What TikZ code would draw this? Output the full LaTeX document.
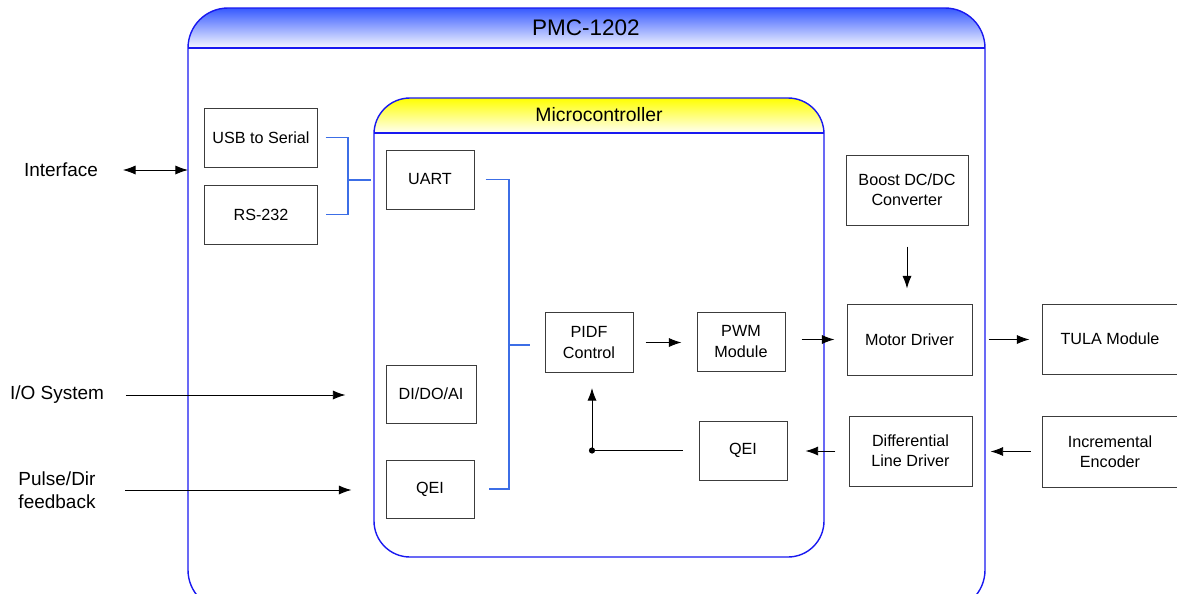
\documentclass[tikz,border=0pt]{standalone}
\usepackage{fontspec}
\setmainfont{Liberation Sans}
\usetikzlibrary{arrows.meta,calc}
\definecolor{frameblue}{RGB}{25,25,240}
\definecolor{busblue}{RGB}{60,110,230}
\definecolor{titleblue}{RGB}{55,90,255}
\definecolor{edgegray}{RGB}{60,60,60}
\newcommand{\boxfont}{\fontsize{11.5}{14.5}\selectfont}
\newcommand{\sidefont}{\fontsize{13.5}{16}\selectfont}
\newcommand{\headfont}{\fontsize{13.8}{16}\selectfont}
\newcommand{\titlefont}{\fontsize{16}{18}\selectfont}

\begin{document}
\begin{tikzpicture}[x=0.025cm, y=-0.025cm, >={Latex[length=9pt,width=6.5pt]},
  blk/.style={draw=edgegray, line width=0.7pt, align=center, minimum width=2.2cm, minimum height=1.475cm, font=\boxfont},
  wideblk/.style={blk, minimum width=3.1cm, minimum height=1.75cm},
  lbl/.style={align=center, font=\sidefont},
  sig/.style={line width=0.65pt},
  bus/.style={draw=busblue, line width=0.8pt},
  frame/.style={draw=frameblue, line width=1pt}]
\clip (0,0) rectangle (1177,593);

% PMC-1202 board
\begin{scope}
\clip[rounded corners=1cm] (188,8) rectangle (985,610);
\fill[top color=titleblue, bottom color=titleblue!4] (188,8) rectangle (985,48);
\end{scope}
\draw[frame, rounded corners=1cm] (188,8) rectangle (985,610);
\draw[frame] (188,48) -- (985,48);
\node[font=\titlefont] (pmc) at (586,28) {PMC-1202};

% Microcontroller
\begin{scope}
\clip[rounded corners=0.9cm] (374,98) rectangle (824,557);
\fill[top color=yellow, bottom color=yellow!4] (374,98) rectangle (824,133);
\end{scope}
\draw[frame, rounded corners=0.9cm] (374,98) rectangle (824,557);
\draw[frame] (374,133) -- (824,133);
\node[font=\headfont] (mcu) at (599,115) {Microcontroller};

% outside labels
\node[lbl] (iface) at (61,170) {Interface};
\node[lbl] (io) at (57,395) {I/O System};
\node[lbl] (pulse) at (57,490) {Pulse/Dir\\feedback};

% serial side
\node[blk, minimum width=2.8cm] (usb) at (261,137.5) {USB to Serial};
\node[blk, minimum width=2.8cm] (rs) at (261,214.5) {RS-232};

% inside the microcontroller
\node[blk] (uart) at (430,179.5) {UART};
\node[blk, minimum width=2.25cm, minimum height=1.45cm] (dio) at (431,394) {DI/DO/AI};
\node[blk, minimum height=1.45cm] (qeiin) at (430,489) {QEI};
\node[blk, minimum height=1.5cm] (pidf) at (589,342.5) {PIDF\\Control};
\node[blk] (pwm) at (741,341.5) {PWM\\Module};
\node[blk] (qeifb) at (743,450.5) {QEI};

% power stage and motor
\node[wideblk, minimum width=3.05cm] (boost) at (907,190) {Boost DC/DC\\Converter};
\node[wideblk, minimum width=3.125cm, minimum height=1.775cm] (motor) at (909.5,339.5) {Motor Driver};
\node[wideblk, minimum width=3.075cm] (diff) at (910.5,451) {Differential\\Line Driver};
\node[wideblk, minimum width=3.4cm] (tula) at (1110,339) {TULA Module};
\node[wideblk, minimum width=3.4cm, minimum height=1.775cm] (enc) at (1110,451.5) {Incremental\\Encoder};

% inputs
\coordinate (ifin) at (188,170);
\draw[sig, <->, shorten <=0.5cm] (iface) -- (ifin);
\draw[sig, ->, shorten <=0.425cm, shorten >=1cm] (io) -- (io -| dio.west);
\draw[sig, ->, shorten <=0.625cm, shorten >=0.85cm] (pulse) -- (pulse -| qeiin.west);

% serial bus
\coordinate (sj) at (348,180);
\coordinate (mcuin) at (371,180);
\draw[bus] ([xshift=0.2cm]usb.east) -| (sj) |- ([xshift=0.2cm]rs.east);
\draw[bus] (sj) -- (mcuin);

% peripheral bus
\coordinate (uj) at (509,345);
\draw[bus] ([xshift=0.275cm]uart.east) -| (uj) |- ([xshift=0.35cm]qeiin.east);
\draw[bus, shorten >=0.35cm] (uj) -- (uj -| pidf.west);

% control chain
\draw[sig, ->, shorten <=0.3cm, shorten >=0.375cm] (pidf) -- (pidf -| pwm.west);
\draw[sig, ->, shorten <=0.4cm, shorten >=0.3cm] (motor -| pwm.east) -- (motor);
\draw[sig, ->, shorten <=0.525cm, shorten >=0.375cm] (boost) -- (boost |- motor.north);
\draw[sig, ->, shorten <=0.4cm, shorten >=0.3cm] (motor) -- (motor -| tula.west);
\draw[sig, ->, shorten <=0.275cm, shorten >=0.45cm] (enc) -- (enc -| diff.east);
\draw[sig, ->, shorten <=0.325cm, shorten >=0.45cm] (diff) -- (diff -| qeifb.east);

% feedback loop
\coordinate (fb) at (592,450.5);
\draw[sig, shorten <=0.4cm] (qeifb) -- (fb);
\draw[sig, ->, shorten >=0.375cm] (fb) -- (fb |- pidf.south);
\fill (fb) circle (2.2pt);
\end{tikzpicture}
\end{document}
